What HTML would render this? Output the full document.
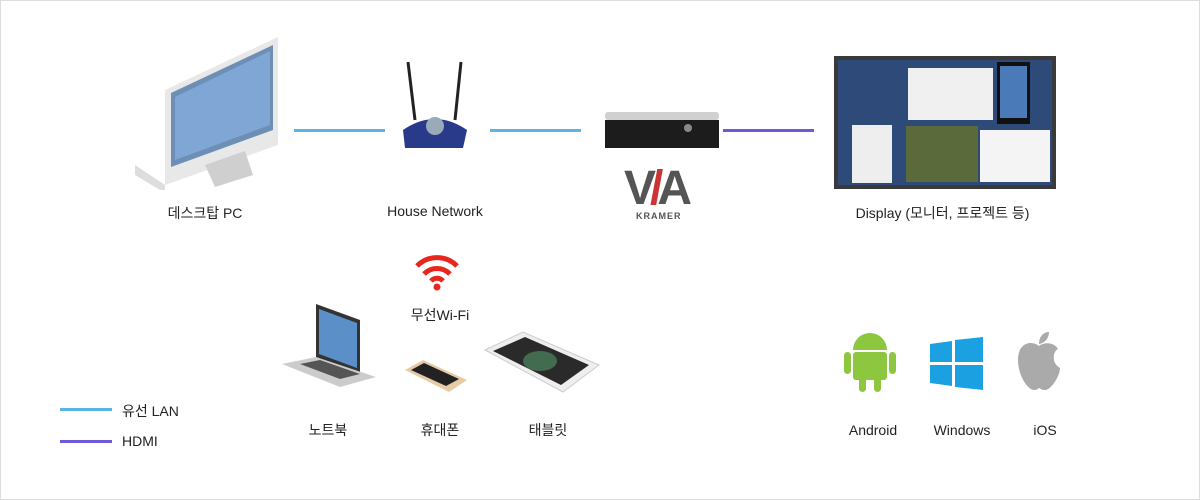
<!DOCTYPE html>
<html><head><meta charset="utf-8"><style>
body{margin:0;width:1200px;height:500px;background:#fff;position:relative;overflow:hidden;font-family:"Liberation Sans","Noto Sans CJK KR",sans-serif;color:#222}
.b{position:absolute;box-sizing:border-box;border:1px solid #ddd;left:0;top:0;width:1200px;height:500px}
.a{position:absolute}
.t{position:absolute;font-size:14px;text-align:center;white-space:nowrap}
.l{position:absolute;height:3px}
</style></head><body>
<div class="b"></div>
<!-- lines -->
<div class="l" style="left:294px;top:129px;width:91px;background:#5ab4e6"></div>
<div class="l" style="left:490px;top:129px;width:91px;background:#5ab4e6"></div>
<div class="l" style="left:723px;top:129px;width:91px;background:#6c5ad8"></div>
<!-- monitor -->
<svg class="a" style="left:135px;top:35px" width="150" height="155">
<polygon points="30,55 143,2 143,110 30,150" fill="#e8e8e8"/>
<polygon points="36,58 138,10 138,95 36,132" fill="#6d8fb5"/>
<polygon points="40,62 135,16 135,90 40,125" fill="#7fa6d4"/>
<polygon points="70,130 110,116 118,140 80,152" fill="#cfcfcf"/>
<polygon points="0,130 30,150 30,158 0,140" fill="#ddd"/>
</svg>
<!-- router -->
<svg class="a" style="left:395px;top:60px" width="80" height="95">
<line x1="13" y1="2" x2="20" y2="60" stroke="#222" stroke-width="3"/>
<line x1="66" y1="2" x2="60" y2="60" stroke="#222" stroke-width="3"/>
<path d="M8,70 Q40,48 72,70 L68,88 L10,88 Z" fill="#2a3a8a"/>
<circle cx="40" cy="66" r="9" fill="#9ab"/>
</svg>
<!-- VIA box -->
<svg class="a" style="left:603px;top:110px" width="118" height="40">
<rect x="2" y="2" width="114" height="8" rx="3" fill="#d0d0d0"/>
<rect x="2" y="10" width="114" height="28" fill="#1c1c1c"/>
<circle cx="85" cy="18" r="4" fill="#888"/>
</svg>
<div class="a" style="left:624px;top:165px;font:bold 48px 'Liberation Sans',sans-serif;color:#555;letter-spacing:-6px;line-height:1">V<span style="color:#c33">/</span>A</div>
<div class="a" style="left:636px;top:211px;font:bold 9px 'Liberation Sans',sans-serif;color:#555;letter-spacing:1px">KRAMER</div>
<!-- display -->
<div class="a" style="left:834px;top:56px;width:222px;height:133px;background:#3a3a3a"></div>
<div class="a" style="left:838px;top:60px;width:214px;height:125px;background:#2d4a78"></div>
<div class="a" style="left:908px;top:68px;width:85px;height:52px;background:#f0f0f0"></div>
<div class="a" style="left:997px;top:62px;width:33px;height:62px;background:#111"></div>
<div class="a" style="left:1000px;top:66px;width:27px;height:52px;background:#4a7ab8"></div>
<div class="a" style="left:852px;top:125px;width:40px;height:58px;background:#eee"></div>
<div class="a" style="left:906px;top:126px;width:72px;height:56px;background:#5a6a3a"></div>
<div class="a" style="left:980px;top:130px;width:70px;height:52px;background:#f4f4f4"></div>
<!-- labels -->
<div class="t" style="left:150px;top:203px;width:110px">데스크탑 PC</div>
<div class="t" style="left:370px;top:203px;width:130px">House Network</div>
<div class="t" style="left:830px;top:203px;width:225px">Display (모니터, 프로젝트 등)</div>
<!-- wifi -->
<svg class="a" style="left:413px;top:252px" width="48" height="40">
<path d="M4,14 A28,28 0 0 1 44,14" stroke="#e8261b" stroke-width="5" fill="none"/>
<path d="M11,22 A18,18 0 0 1 37,22" stroke="#e8261b" stroke-width="5" fill="none"/>
<path d="M18,29 A8,8 0 0 1 30,29" stroke="#e8261b" stroke-width="5" fill="none"/>
<circle cx="24" cy="35" r="3.5" fill="#e8261b"/>
</svg>
<div class="t" style="left:400px;top:305px;width:80px">무선Wi-Fi</div>
<!-- laptop -->
<svg class="a" style="left:280px;top:302px" width="105" height="85">
<polygon points="36,2 80,18 80,72 36,55" fill="#333"/>
<polygon points="39,7 77,21 77,66 39,52" fill="#5a8fc8"/>
<polygon points="2,62 36,55 96,75 60,85" fill="#ccc"/>
<polygon points="20,62 40,58 80,72 60,77" fill="#555"/>
</svg>
<!-- phone -->
<svg class="a" style="left:403px;top:352px" width="65" height="42">
<polygon points="2,18 20,8 64,28 46,40" fill="#e6cba6"/>
<polygon points="8,18 21,11 56,27 43,34" fill="#222"/>
</svg>
<!-- tablet -->
<svg class="a" style="left:483px;top:330px" width="118" height="65">
<polygon points="2,20 40,2 116,35 80,62" fill="#eee" stroke="#ccc"/>
<polygon points="10,21 42,7 106,35 78,55" fill="#2a2a2a"/>
<ellipse cx="57" cy="31" rx="17" ry="10" fill="#6c8" opacity=".4"/>
</svg>
<div class="t" style="left:298px;top:420px;width:60px">노트북</div>
<div class="t" style="left:410px;top:420px;width:60px">휴대폰</div>
<div class="t" style="left:518px;top:420px;width:60px">태블릿</div>
<!-- android -->
<svg class="a" style="left:843px;top:328px" width="55" height="66" fill="#8dc63f">
<path d="M10,22 A17,17 0 0 1 44,22 Z"/>
<rect x="10" y="24" width="34" height="28" rx="3"/>
<rect x="1" y="24" width="7" height="22" rx="3.5"/>
<rect x="46" y="24" width="7" height="22" rx="3.5"/>
<rect x="16" y="48" width="7" height="16" rx="3.5"/>
<rect x="31" y="48" width="7" height="16" rx="3.5"/>
</svg>
<!-- windows -->
<svg class="a" style="left:930px;top:337px" width="54" height="54" fill="#1ba1e2">
<polygon points="0,7 22,4 22,25 0,25"/><polygon points="25,3 53,0 53,25 25,25"/>
<polygon points="0,28 22,28 22,49 0,46"/><polygon points="25,28 53,28 53,53 25,50"/>
</svg>
<!-- apple -->
<svg class="a" style="left:1014px;top:330px" width="50" height="62" fill="#aaa">
<path d="M25,16 C18,10 4,12 4,30 C4,46 14,60 20,60 C24,60 24,58 25,58 C26,58 27,60 31,60 C37,60 46,46 46,38 C38,34 38,22 44,19 C40,12 30,12 25,16 Z"/>
<path d="M25,14 C25,6 30,2 35,2 C35,8 31,13 25,14 Z"/>
</svg>
<div class="t" style="left:838px;top:422px;width:70px">Android</div>
<div class="t" style="left:922px;top:422px;width:80px">Windows</div>
<div class="t" style="left:1020px;top:422px;width:50px">iOS</div>
<!-- legend -->
<div class="l" style="left:60px;top:408px;width:52px;background:#5ab4e6"></div>
<div class="l" style="left:60px;top:440px;width:52px;background:#6c5ad8"></div>
<div class="t" style="left:122px;top:401px;text-align:left">유선 LAN</div>
<div class="t" style="left:122px;top:433px;text-align:left">HDMI</div>
</body></html>
